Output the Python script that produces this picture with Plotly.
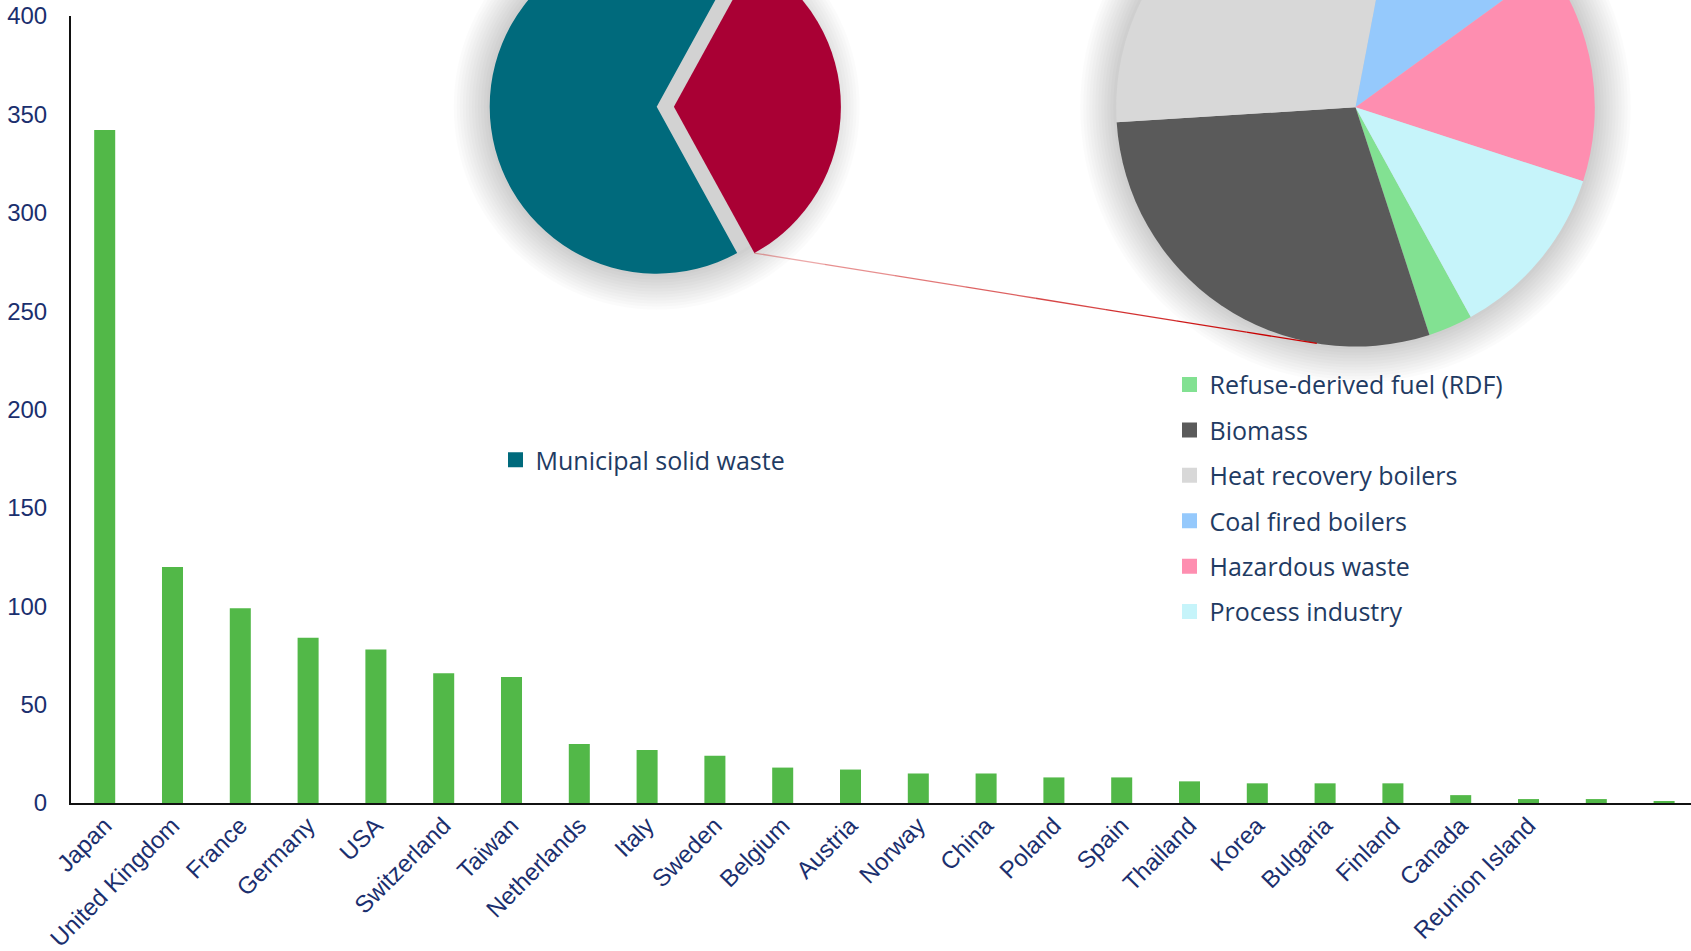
import numpy as np
import plotly.graph_objects as go

# ---------------- data ----------------
countries = ["Japan", "United Kingdom", "France", "Germany", "USA", "Switzerland",
             "Taiwan", "Netherlands", "Italy", "Sweden", "Belgium", "Austria",
             "Norway", "China", "Poland", "Spain", "Thailand", "Korea",
             "Bulgaria", "Finland", "Canada", "Reunion Island", " ", "  "]
plants = [342, 120, 99, 84, 78, 66, 64, 30, 27, 24, 18, 17,
          15, 15, 13, 13, 11, 10, 10, 10, 4, 2, 2, 1]
y_ticks = [0, 50, 100, 150, 200, 250, 300, 350, 400]

feed_labels = ["Other", "Municipal solid waste"]
feed_share = [34, 66]
feed_colors = ["#a90034", "#006a7c"]

other_labels = ["Refuse-derived fuel (RDF)", "Biomass", "Heat recovery boilers",
                "Coal fired boilers", "Hazardous waste", "Process industry"]
other_share = [3, 29, 29, 12, 15, 12]
other_colors = ["#82e192", "#5a5a5a", "#d8d8d8", "#95c9fc", "#fe8eb0", "#c6f4fa"]

# ---------------- canvas geometry (px) ----------------
W, H_VIEW, SHIFT = 1691, 951, 140      # figure is drawn SHIFT px taller, then raised
H = H_VIEW + SHIFT

def px(x):
    return x / W

def py(y):
    return 1 - (y + SHIFT) / H

AX_LEFT, AX_TOP, AX_BOTTOM = 71, 16, 803
CAT_W = 67.8
FIRST_CENTER = 104.7

TICK_FONT = dict(family="Liberation Sans, Arial, sans-serif", size=24, color="#1b2f6e")
LEG_FONT = dict(family="Open Sans, sans-serif", size=25, color="#1f3b63")

fig = go.Figure()

fig.add_trace(go.Bar(
    x=countries, y=plants, width=0.31,
    marker=dict(color="#52b848", line=dict(width=0)),
    showlegend=False, hoverinfo="skip",
))

# ---------------- pies ----------------
L_CX, L_CY, L_R, L_PULL = 656.7, 106.7, 167.0, 0.103
R_CX, R_CY, R_R = 1355.5, 107.3, 239.3

def pie_domain(cx, cy, half):
    return dict(x=[px(cx - half), px(cx + half)], y=[py(cy + half), py(cy - half)])

# red slice starts so that it is centred on 3 o'clock
l_rot = 90 - 180 * feed_share[0] / sum(feed_share)
fig.add_trace(go.Pie(
    labels=feed_labels, values=feed_share, sort=False, direction="clockwise",
    rotation=l_rot, pull=[L_PULL, 0],
    marker=dict(colors=feed_colors, line=dict(width=0)),
    textinfo="none", hoverinfo="skip", showlegend=False,
    domain=pie_domain(L_CX, L_CY, L_R * (1 + L_PULL)),
))

R_ROT = 151.2
fig.add_trace(go.Pie(
    labels=other_labels, values=other_share, sort=False, direction="clockwise",
    rotation=R_ROT,
    marker=dict(colors=other_colors, line=dict(width=0)),
    textinfo="none", hoverinfo="skip", showlegend=False,
    domain=pie_domain(R_CX, R_CY, R_R),
))

# ---------------- legends ----------------
fig.add_trace(go.Scatter(
    x=[None], y=[None], mode="markers", name=feed_labels[1], legend="legend",
    marker=dict(symbol="square", size=15, color=feed_colors[1], line=dict(width=0)),
))
for lab, col in zip(other_labels, other_colors):
    fig.add_trace(go.Scatter(
        x=[None], y=[None], mode="markers", name=lab, legend="legend2", legendgroup=lab,
        marker=dict(symbol="square", size=15, color=col, line=dict(width=0)),
    ))

# ---------------- shadows and series line ----------------
shapes = []

def glow(cx, cy, r, steps=12, step=3.0, alpha=0.016):
    out = []
    for k in range(steps, 0, -1):
        rr = r + k * step
        out.append(dict(type="circle", xref="paper", yref="paper", layer="below",
                        x0=px(cx - rr), x1=px(cx + rr), y0=py(cy + rr), y1=py(cy - rr),
                        fillcolor=f"rgba(0,0,0,{alpha})", line=dict(width=0)))
    return out

shapes += glow(L_CX, L_CY, L_R)
shapes += glow(R_CX, R_CY, R_R)
# gap behind the pulled slice
shapes.append(dict(type="circle", xref="paper", yref="paper", layer="below",
                   x0=px(L_CX - L_R), x1=px(L_CX + L_R), y0=py(L_CY + L_R), y1=py(L_CY - L_R),
                   fillcolor="#d2d2d2", line=dict(width=0)))

# series line: end of the pulled slice -> lower rim of the breakdown pie
red_end = np.radians(l_rot + 360 * feed_share[0] / sum(feed_share))
sx = L_CX + L_R * L_PULL + L_R * np.sin(red_end)
sy = L_CY - L_R * np.cos(red_end)
tgt = np.radians(189.3)
ex = R_CX + R_R * np.sin(tgt)
ey = R_CY - R_R * np.cos(tgt)
n_seg = 8
for k in range(n_seg):
    t0, t1 = k / n_seg, (k + 1) / n_seg
    shapes.append(dict(type="line", xref="paper", yref="paper", layer="above",
                       x0=px(sx + (ex - sx) * t0), y0=py(sy + (ey - sy) * t0),
                       x1=px(sx + (ex - sx) * t1), y1=py(sy + (ey - sy) * t1),
                       line=dict(color=f"rgba(200,0,0,{0.25 + 0.75 * t1:.2f})", width=1.3)))

fig.update_layout(
    width=W, height=H,
    margin=dict(l=0, r=0, t=0, b=0),
    paper_bgcolor="white", plot_bgcolor="rgba(0,0,0,0)",
    template="none",
    hovermode=False,
    shapes=shapes,
    xaxis=dict(
        domain=[px(AX_LEFT), 1],
        range=[-(FIRST_CENTER - AX_LEFT) / CAT_W, (W - FIRST_CENTER) / CAT_W],
        tickmode="array", tickvals=countries[:22], ticktext=countries[:22],
        tickangle=-45, tickfont=TICK_FONT, ticks="", ticklabelstandoff=-3,
        showline=True, linecolor="#111111", linewidth=2.2,
        showgrid=False, zeroline=False, automargin=False,
    ),
    yaxis=dict(
        domain=[py(AX_BOTTOM), py(AX_TOP)],
        range=[0, 400], tickvals=y_ticks, tickfont=TICK_FONT, ticks="",
        ticklabelstandoff=17,
        showline=True, linecolor="#111111", linewidth=2,
        showgrid=False, zeroline=False, automargin=False,
    ),
    legend=dict(x=px(495.5), y=py(459.5 - 22.5), xanchor="left", yanchor="top",
                font=LEG_FONT, bgcolor="rgba(0,0,0,0)", borderwidth=0),
    legend2=dict(x=px(1169.5), y=py(386.3 - 24.5), xanchor="left", yanchor="top",
                 font=LEG_FONT, bgcolor="rgba(0,0,0,0)", borderwidth=0,
                 traceorder="grouped", tracegroupgap=9.9),
)

raise_page = (
    "document.documentElement.style.overflow='hidden';"
    "document.body.style.margin='0';document.body.style.overflow='hidden';"
    "var gd=document.getElementById('{plot_id}');"
    "gd.style.position='relative';gd.style.top='-%dpx';" % SHIFT
)
fig.write_html("out.html", post_script=raise_page, config={"displayModeBar": False})
